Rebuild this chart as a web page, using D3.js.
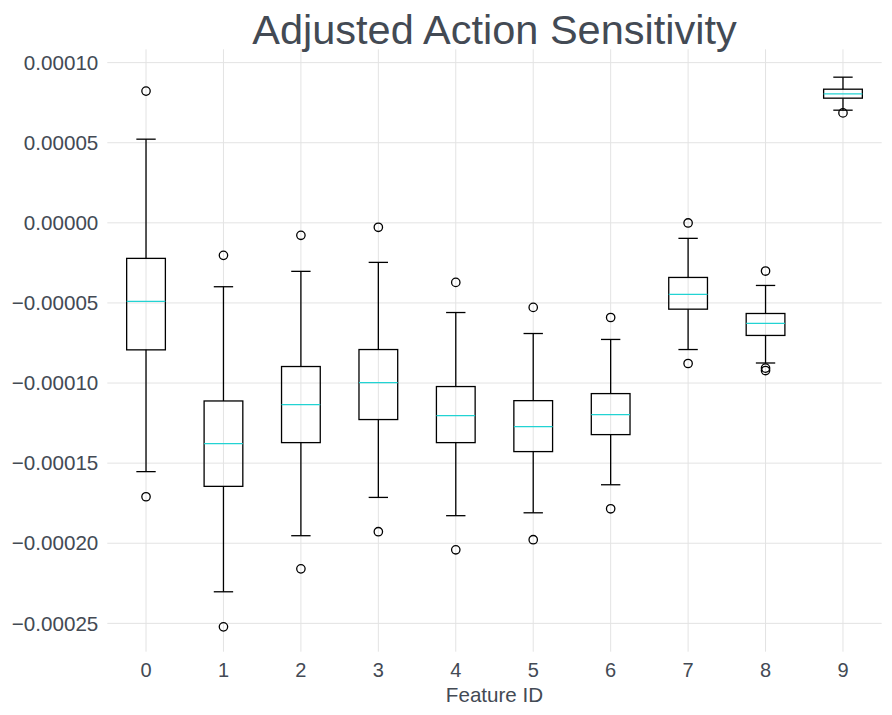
<!DOCTYPE html>
<html>
<head>
<meta charset="utf-8">
<script src="https://cdn.jsdelivr.net/npm/d3@7"></script>
<style>
  body { margin: 0; background: #fff; }
  text { font-family: "Liberation Sans", Arial, sans-serif; fill: #434a54; }
  .grid line { stroke: #e3e3e3; stroke-width: 1; }
  .grid .domain { display: none; }
  .axis .domain { display: none; }
</style>
</head>
<body>
<div id="chart"></div>
<script>
// summary stats per feature (units of 1e-5)
const features = ["0", "1", "2", "3", "4", "5", "6", "7", "8", "9"];
const whiskerLow = [-15.56, -23.06, -19.56, -17.17, -18.31, -18.13, -16.38, -7.94, -8.78, 7.0];
const q1 = [-7.96, -16.48, -13.75, -12.31, -13.75, -14.31, -13.25, -5.42, -7.06, 7.75];
const median = [-4.94, -13.81, -11.38, -10.0, -12.06, -12.75, -12.0, -4.5, -6.31, 8.02];
const q3 = [-2.25, -11.15, -9.0, -7.94, -10.25, -11.13, -10.69, -3.44, -5.69, 8.31];
const whiskerHigh = [5.19, -4.02, -3.06, -2.5, -5.63, -6.94, -7.31, -1.0, -3.94, 9.06];
const outliers = [
  [8.19, -17.13],
  [-2.06, -25.25],
  [-0.81, -21.63],
  [-0.31, -19.31],
  [-3.75, -20.44],
  [-5.31, -19.81],
  [-5.94, -17.88],
  [-0.04, -8.81],
  [-3.04, -9.1, -9.25],
  [6.83],
];
const yTicks = [-0.00025, -0.0002, -0.00015, -0.0001, -0.00005, 0, 0.00005, 0.0001];

const W = 892, H = 715;
const plot = { left: 107.3, right: 881.7, top: 49.3, bottom: 651.7 };
const s = 1e-5;

const data = features.map((f, i) => ({
  f,
  lo: whiskerLow[i] * s,
  q1: q1[i] * s,
  med: median[i] * s,
  q3: q3[i] * s,
  hi: whiskerHigh[i] * s,
  out: outliers[i].map((v) => v * s),
}));

const x = d3.scaleBand().domain(features).range([plot.left, plot.right]).padding(0);
const y = d3.scaleLinear().domain([-0.000268, 0.000108]).range([plot.bottom, plot.top]);

const svg = d3.select("#chart").append("svg").attr("width", W).attr("height", H);

// grid
svg.append("g")
  .attr("class", "grid")
  .attr("transform", `translate(${plot.left},0)`)
  .call(d3.axisLeft(y).tickValues(yTicks).tickSize(-(plot.right - plot.left)).tickFormat(""));

svg.append("g")
  .attr("class", "grid")
  .attr("transform", `translate(0,${plot.bottom})`)
  .call(d3.axisBottom(x).tickSize(-(plot.bottom - plot.top)).tickFormat(""));

// axes labels
const yAxis = svg.append("g")
  .attr("class", "axis")
  .attr("transform", `translate(${plot.left},0)`)
  .call(d3.axisLeft(y).tickValues(yTicks).tickSize(0).tickPadding(9).tickFormat(d3.format(".5f")));
yAxis.selectAll("text").style("font-size", "20.6px").attr("dy", "0.35em");

const xAxis = svg.append("g")
  .attr("class", "axis")
  .attr("transform", `translate(0,${plot.bottom})`)
  .call(d3.axisBottom(x).tickSize(0).tickPadding(11));
xAxis.selectAll("text").style("font-size", "20px");

svg.append("text")
  .attr("x", (plot.left + plot.right) / 2)
  .attr("y", 702)
  .attr("text-anchor", "middle")
  .style("font-size", "20.6px")
  .text("Feature ID");

svg.append("text")
  .attr("x", (plot.left + plot.right) / 2)
  .attr("y", 44)
  .attr("text-anchor", "middle")
  .style("font-size", "41.5px")
  .text("Adjusted Action Sensitivity");

// boxes
const bw = x.bandwidth() * 0.5;
const cw = bw * 0.5;
const g = svg.selectAll(".box")
  .data(data)
  .enter()
  .append("g")
  .attr("class", "box")
  .attr("transform", (d) => `translate(${x(d.f) + x.bandwidth() / 2},0)`);

g.append("line")
  .attr("y1", (d) => y(d.q3)).attr("y2", (d) => y(d.hi))
  .attr("stroke", "#000").attr("stroke-width", 1.3);
g.append("line")
  .attr("y1", (d) => y(d.q1)).attr("y2", (d) => y(d.lo))
  .attr("stroke", "#000").attr("stroke-width", 1.3);
g.append("line")
  .attr("x1", -cw / 2).attr("x2", cw / 2)
  .attr("y1", (d) => y(d.hi)).attr("y2", (d) => y(d.hi))
  .attr("stroke", "#000").attr("stroke-width", 1.3);
g.append("line")
  .attr("x1", -cw / 2).attr("x2", cw / 2)
  .attr("y1", (d) => y(d.lo)).attr("y2", (d) => y(d.lo))
  .attr("stroke", "#000").attr("stroke-width", 1.3);
g.append("rect")
  .attr("x", -bw / 2)
  .attr("width", bw)
  .attr("y", (d) => y(d.q3))
  .attr("height", (d) => y(d.q1) - y(d.q3))
  .attr("fill", "none").attr("stroke", "#000").attr("stroke-width", 1.3);
g.append("line")
  .attr("x1", -bw / 2).attr("x2", bw / 2)
  .attr("y1", (d) => y(d.med)).attr("y2", (d) => y(d.med))
  .attr("stroke", "#22d3d3").attr("stroke-width", 1.3);
g.selectAll(".flier")
  .data((d) => d.out)
  .enter()
  .append("circle")
  .attr("class", "flier")
  .attr("cy", (v) => y(v))
  .attr("r", 4.2)
  .attr("fill", "none").attr("stroke", "#000").attr("stroke-width", 1.3);
</script>
</body>
</html>
